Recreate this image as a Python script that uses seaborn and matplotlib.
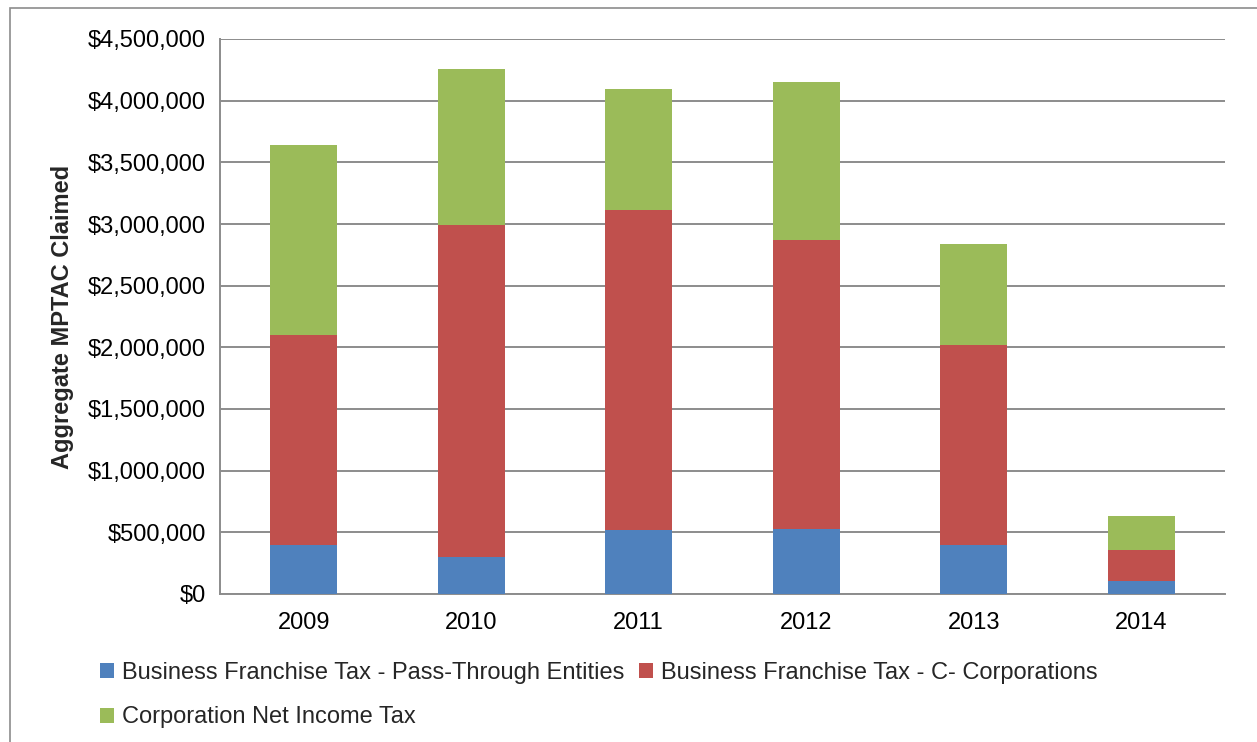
import pandas as pd
import numpy as np
import matplotlib.pyplot as plt
import matplotlib.ticker as mticker
from matplotlib.patches import Rectangle, Patch
import seaborn as sns

# Valores
anos = ["2009", "2010", "2011", "2012", "2013", "2014"]
pass_through = [396000, 303000, 517000, 525000, 400000, 104000]
c_corp = [1700000, 2687000, 2595000, 2349000, 1615000, 254000]
net_income = [1544000, 1267000, 980000, 1280000, 825000, 276000]

nomes = ["Business Franchise Tax - Pass-Through Entities",
         "Business Franchise Tax - C- Corporations",
         "Corporation Net Income Tax"]
cores = ["#4F81BD", "#C0504D", "#9BBB59"]

sns.set_style("white")
plt.rcParams['font.family'] = ['Liberation Sans', 'DejaVu Sans']
fs = 17

df = pd.DataFrame({"ano": anos, "pt": pass_through, "cc": c_corp, "ni": net_income})
df["nivel1"] = df["pt"]
df["nivel2"] = df["pt"] + df["cc"]
df["nivel3"] = df["nivel2"] + df["ni"]

fig = plt.figure(figsize=(12.57, 7.42), dpi=100, facecolor="white")
ax = fig.add_axes([220/1257, 1-594/742, 1005/1257, 555/742])

# Empilhamento: desenha o total primeiro e sobrepõe as camadas
for col, cor in zip(["nivel3", "nivel2", "nivel1"], cores[::-1]):
    sns.barplot(data=df, x="ano", y=col, color=cor, width=0.4, saturation=1,
                linewidth=0, edgecolor="none", ax=ax, zorder=3)

ax.set_xlim(-0.5, 5.5)
ax.set_ylim(0, 4500000)
ax.yaxis.set_major_locator(mticker.MultipleLocator(500000))
ax.yaxis.set_major_formatter(mticker.FuncFormatter(lambda v, p: f"${v:,.0f}"))
ax.grid(axis="y", color="#8c8c8c", linewidth=1.4, zorder=0)
ax.set_axisbelow(True)

ax.set_xticks(range(len(anos)))
ax.set_xticks(np.arange(-0.5, 6, 1), minor=True)
ax.tick_params(axis="x", which="major", length=0, labelsize=fs, pad=13, colors="black")
ax.tick_params(axis="x", which="minor", length=7, width=1.2, color="#8c8c8c", direction="out")
ax.tick_params(axis="y", length=6, width=1.2, color="#8c8c8c", labelsize=fs, pad=4,
               labelcolor="black")

for s in ["top", "right"]:
    ax.spines[s].set_visible(False)
for s in ["left", "bottom"]:
    ax.spines[s].set_color("#8c8c8c")
    ax.spines[s].set_linewidth(1.4)

ax.set_xlabel("")
ax.set_ylabel("Aggregate MPTAC Claimed", fontsize=fs, fontweight="bold", labelpad=10)

# Legenda em duas linhas (ordem ajustada para ncol=2)
alcas = [Patch(facecolor=c, edgecolor="none") for c in cores]
ordem = [0, 2, 1]
fig.legend([alcas[i] for i in ordem], [nomes[i] for i in ordem], ncol=2,
           loc="upper left", bbox_to_anchor=(100/1257, 1-662/742), frameon=False,
           fontsize=fs, handlelength=0.6, handleheight=0.6, handletextpad=0.35,
           columnspacing=0.6, labelspacing=0.95, borderaxespad=0, borderpad=0)

# Moldura externa
fig.patches.append(Rectangle((10/1257, -0.05), 1.1, 1.05 - 8/742,
                             transform=fig.transFigure, fill=False,
                             edgecolor="#8c8c8c", linewidth=1.2))

fig.savefig("out.png", dpi=100, facecolor="white")
